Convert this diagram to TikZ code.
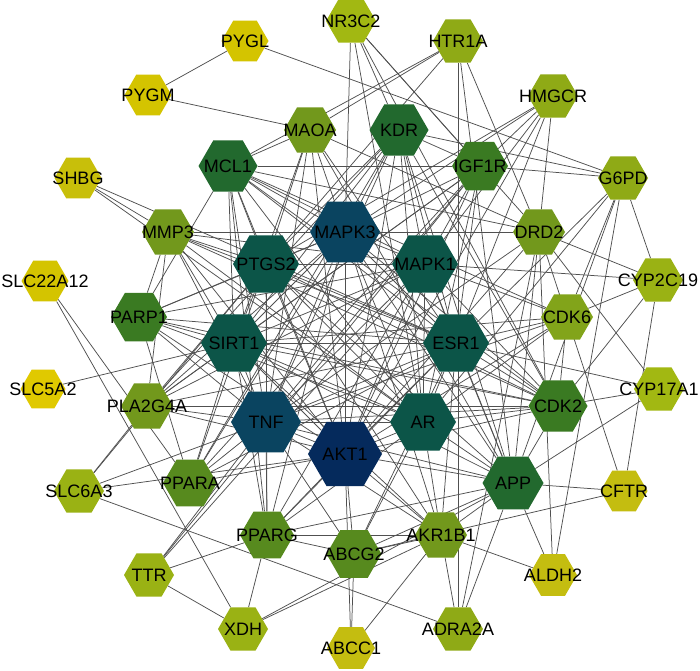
\documentclass[tikz,border=0pt]{standalone}
\usepackage{fontspec}
\setmainfont{Liberation Sans}
\usetikzlibrary{shapes.geometric}
\pgfdeclarelayer{bg}
\pgfsetlayers{bg,main}
\definecolor{cYa}{HTML}{E0C900}
\definecolor{cYb}{HTML}{D4C400}
\definecolor{cYc}{HTML}{C8BF0A}
\definecolor{cYd}{HTML}{C4BD10}
\definecolor{cOa}{HTML}{9AB214}
\definecolor{cOb}{HTML}{8FAA16}
\definecolor{cOc}{HTML}{A2B812}
\definecolor{cG}{HTML}{72981C}
\definecolor{cGb}{HTML}{82A41A}
\definecolor{cG2}{HTML}{578A1E}
\definecolor{cDG1}{HTML}{3A7A22}
\definecolor{cDG2}{HTML}{22692E}
\definecolor{cT}{HTML}{0C5548}
\definecolor{cB}{HTML}{0A4460}
\definecolor{cN}{HTML}{052A5C}
\definecolor{cLine}{HTML}{505050}
\tikzset{
  hexnode/.style={shape=regular polygon, regular polygon sides=6, inner sep=0pt, draw=none},
  lbl/.style={font=\fontsize{18}{20}\selectfont, inner sep=0pt, text=black},
  lnk/.style={draw=cLine, line width=0.75pt}
}
\newcommand{\gene}[5]{\node[hexnode, minimum size=#4, fill=#5, label={[lbl]center:#1}] (#1) at (#2,#3) {};}
\begin{document}
\begin{tikzpicture}[x=1pt,y=-1pt]
\useasboundingbox (0,0) rectangle (700,670);
\gene{PYGL}{245}{41}{47}{cYb}
\gene{NR3C2}{351}{21}{50}{cOc}
\gene{HTR1A}{458}{41}{50}{cOb}
\gene{PYGM}{148}{95}{47}{cYb}
\gene{HMGCR}{553}{96}{50}{cOb}
\gene{MAOA}{310}{130}{52}{cG}
\gene{KDR}{399}{130}{59}{cDG2}
\gene{MCL1}{228}{166}{59}{cDG2}
\gene{IGF1R}{480}{166}{56}{cDG1}
\gene{SHBG}{78}{178}{47}{cYc}
\gene{G6PD}{623}{178}{50}{cOb}
\gene{MMP3}{168}{232}{52}{cG}
\gene{MAPK3}{345}{232}{70}{cB}
\gene{DRD2}{539}{232}{52}{cG}
\gene{PTGS2}{266}{264}{66}{cT}
\gene{MAPK1}{425}{264}{66}{cT}
\gene{SLC22A12}{45}{281}{47}{cYb}
\gene{CYP2C19}{658}{280}{50}{cOa}
\gene{PARP1}{139}{317}{56}{cDG1}
\gene{CDK6}{567}{317}{52}{cGb}
\gene{SIRT1}{234}{343}{66}{cT}
\gene{ESR1}{456}{343}{66}{cT}
\gene{SLC5A2}{43}{389}{45}{cYa}
\gene{CYP17A1}{659}{389}{50}{cOc}
\gene{PLA2G4A}{147}{406}{52}{cG}
\gene{CDK2}{558}{406}{59}{cDG1}
\gene{TNF}{266}{422}{70}{cB}
\gene{AR}{423}{422}{66}{cT}
\gene{AKT1}{345}{454}{74}{cN}
\gene{PPARA}{190}{483}{54}{cG2}
\gene{APP}{513}{483}{61}{cDG2}
\gene{SLC6A3}{79}{491}{50}{cOa}
\gene{CFTR}{624}{491}{47}{cYd}
\gene{PPARG}{267}{535}{54}{cG2}
\gene{AKR1B1}{441}{535}{52}{cG}
\gene{ABCG2}{354}{554}{55}{cG2}
\gene{TTR}{149}{575}{50}{cOa}
\gene{ALDH2}{553}{575}{48}{cYd}
\gene{XDH}{243}{629}{50}{cOa}
\gene{ADRA2A}{458}{629}{50}{cOb}
\gene{ABCC1}{351}{648}{48}{cYd}
\begin{pgfonlayer}{bg}
\fill[white] (0,0) rectangle (700,670);
\foreach \a/\b in {AKT1/MAPK3, AKT1/TNF, AKT1/PTGS2, AKT1/MAPK1, AKT1/SIRT1, AKT1/ESR1, AKT1/AR,
MAPK3/TNF, MAPK3/PTGS2, MAPK3/MAPK1, MAPK3/SIRT1, MAPK3/ESR1, MAPK3/AR,
TNF/PTGS2, TNF/MAPK1, TNF/SIRT1, TNF/ESR1, TNF/AR,
PTGS2/MAPK1, PTGS2/SIRT1, PTGS2/ESR1, PTGS2/AR,
MAPK1/SIRT1, MAPK1/ESR1, MAPK1/AR, SIRT1/ESR1, SIRT1/AR, ESR1/AR,
MCL1/MAOA, MCL1/IGF1R, MCL1/MAPK3, MCL1/MAPK1, MCL1/ESR1, MCL1/AR, MCL1/AKT1, MCL1/TNF, MCL1/SIRT1, MCL1/PTGS2, MCL1/DRD2, MCL1/CDK2, MCL1/CDK6, MCL1/PARP1, MCL1/PPARG,
KDR/NR3C2, KDR/G6PD, KDR/IGF1R, KDR/MAPK3, KDR/MAPK1, KDR/ESR1, KDR/AR, KDR/AKT1, KDR/TNF, KDR/SIRT1, KDR/PTGS2, KDR/CDK2, KDR/APP, KDR/PLA2G4A, KDR/PPARA,
CDK2/MAPK3, CDK2/MAPK1, CDK2/ESR1, CDK2/AR, CDK2/AKT1, CDK2/TNF, CDK2/SIRT1, CDK2/PTGS2, CDK2/CDK6, CDK2/CYP17A1, CDK2/PARP1, CDK2/PLA2G4A, CDK2/MMP3, CDK2/APP, CDK2/NR3C2, CDK2/CYP2C19,
APP/MAPK3, APP/MAPK1, APP/ESR1, APP/AR, APP/AKT1, APP/TNF, APP/SIRT1, APP/PTGS2, APP/CFTR, APP/CYP17A1, APP/ALDH2, APP/ADRA2A, APP/ABCG2, APP/PPARG, APP/XDH, APP/DRD2, APP/MAOA, APP/HTR1A, APP/G6PD, APP/AKR1B1,
IGF1R/AKT1, IGF1R/MAPK3, IGF1R/MAPK1, IGF1R/ESR1, IGF1R/AR, IGF1R/TNF, IGF1R/SIRT1, IGF1R/G6PD, IGF1R/HMGCR, IGF1R/NR3C2, IGF1R/PLA2G4A, IGF1R/PPARA, IGF1R/TTR,
PARP1/AKT1, PARP1/TNF, PARP1/SIRT1, PARP1/ESR1, PARP1/AR, PARP1/MAPK1, PARP1/PTGS2, PARP1/MAPK3, PARP1/MMP3, PARP1/PPARA,
PPARA/AKT1, PPARA/TNF, PPARA/SIRT1, PPARA/PTGS2, PPARA/MAPK3, PPARA/ESR1, PPARA/SLC22A12,
PPARG/AKT1, PPARG/TNF, PPARG/SIRT1, PPARG/PTGS2, PPARG/MAPK3, PPARG/MAPK1, PPARG/ESR1, PPARG/AR, PPARG/TTR, PPARG/XDH, PPARG/ABCG2,
ABCG2/AKT1, ABCG2/TNF, ABCG2/AR, ABCG2/ESR1, ABCG2/CFTR, ABCG2/ABCC1, ABCG2/AKR1B1,
MAOA/PYGM, MAOA/HTR1A, MAOA/DRD2, MAOA/MAPK3, MAOA/PTGS2, MAOA/TNF, MAOA/AKT1, MAOA/ESR1, MAOA/SIRT1,
MMP3/SHBG, MMP3/MAPK3, MMP3/PTGS2, MMP3/MAPK1, MMP3/ESR1, MMP3/SIRT1, MMP3/TNF, MMP3/AKT1, MMP3/AR, MMP3/PLA2G4A,
PLA2G4A/SIRT1, PLA2G4A/PTGS2, PLA2G4A/MAPK3, PLA2G4A/MAPK1, PLA2G4A/TNF, PLA2G4A/AKT1, PLA2G4A/SLC6A3, PLA2G4A/ESR1,
DRD2/MAPK3, DRD2/HTR1A, DRD2/HMGCR, DRD2/CYP2C19, DRD2/CYP17A1, DRD2/CFTR, DRD2/ALDH2, DRD2/ADRA2A, DRD2/AKT1, DRD2/TNF, DRD2/NR3C2,
CDK6/CYP2C19, CDK6/ESR1, CDK6/G6PD, CDK6/MAPK1, CDK6/AKT1, CDK6/SIRT1, CDK6/AR, CDK6/TNF,
AKR1B1/ADRA2A, AKR1B1/ABCC1, AKR1B1/XDH, AKR1B1/ALDH2, AKR1B1/AKT1, AKR1B1/TNF, AKR1B1/SIRT1, AKR1B1/MAPK3, AKR1B1/PTGS2, AKR1B1/ESR1, AKR1B1/AR, AKR1B1/PPARG,
HTR1A/MCL1, HTR1A/PTGS2, HTR1A/ADRA2A,
HMGCR/MAPK3, HMGCR/PTGS2, HMGCR/MAPK1, HMGCR/ESR1, HMGCR/AKT1,
NR3C2/MAPK3, NR3C2/AR,
G6PD/PYGL, G6PD/ESR1, G6PD/AR, G6PD/CYP2C19, G6PD/ALDH2,
CYP2C19/MAPK1, CYP2C19/CFTR, CYP17A1/ESR1,
SLC22A12/XDH, SLC5A2/SIRT1, SHBG/ESR1, SHBG/AR, PYGL/PYGM,
SLC6A3/PTGS2, SLC6A3/TNF, SLC6A3/AKT1, SLC6A3/ADRA2A,
TTR/TNF, TTR/MAPK1, TTR/XDH, ABCC1/AKT1}{\draw[lnk] (\a) -- (\b);}
\end{pgfonlayer}
\end{tikzpicture}
\end{document}
